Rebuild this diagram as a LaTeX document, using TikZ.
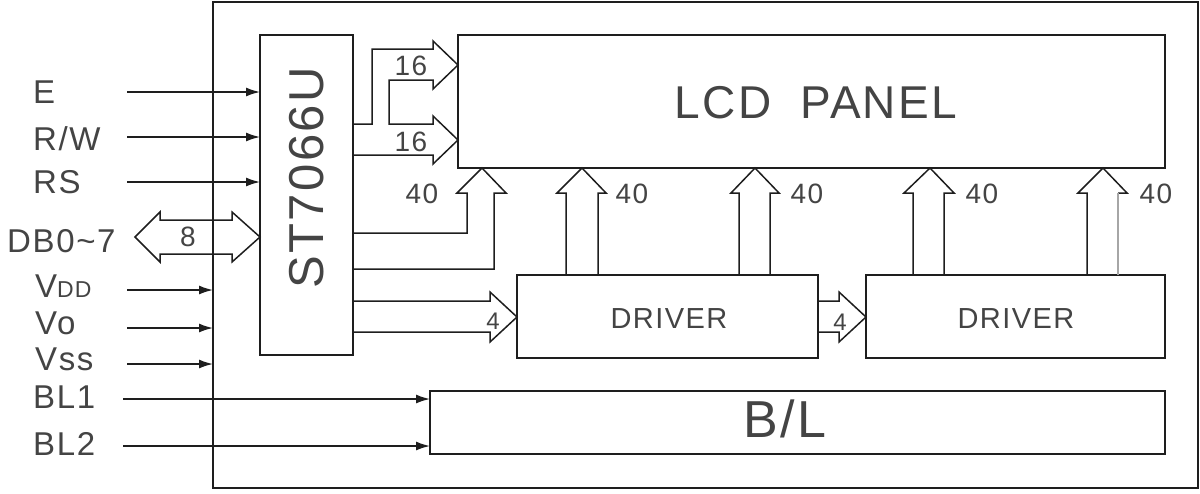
\documentclass[tikz,border=0pt]{standalone}
\usepackage{fontspec}
\setmainfont{Liberation Sans}[LetterSpace=5]
\usetikzlibrary{arrows.meta}
\definecolor{lc}{HTML}{1E1E1E}
\definecolor{tc}{HTML}{444444}
\begin{document}
\begin{tikzpicture}[x=1pt,y=-1pt,
  ln/.style={line width=1.5pt, draw=lc, line join=miter},
  blk/.style={ln, rectangle, inner sep=0pt, outer sep=0pt, anchor=north west},
  sig/.style={ln, -{Latex[length=14pt,width=9pt]}},
  fat/.style={ln},
  lbl/.style={text=tc, font=\fontsize{33}{36}\selectfont, anchor=base west, inner sep=0pt},
  num/.style={text=tc, font=\fontsize{28}{32}\selectfont, anchor=base, inner sep=0pt},
  big/.style={text=tc, anchor=base, inner sep=0pt},
]
\useasboundingbox (0,0) rectangle (1200,493);

% blocks
\node[blk, minimum width=985pt, minimum height=486pt] (frame) at (213,2) {};
\node[blk, minimum width=93pt, minimum height=320pt] (st) at (260,35) {};
\node[blk, minimum width=707pt, minimum height=133pt] (lcd) at (458,35) {};
\node[blk, minimum width=301pt, minimum height=83pt] (drvA) at (517,275) {};
\node[blk, minimum width=299pt, minimum height=83pt] (drvB) at (866,275) {};
\node[blk, minimum width=735pt, minimum height=63pt] (bl) at (430,391) {};

% block texts
\node[text=tc, font=\fontsize{49}{50}\selectfont, rotate=90, inner sep=0pt] (sttxt) at (307,178) {ST7066U};
\node[big, font=\fontsize{46}{48}\selectfont] (lcdtxt) at (816,118) {LCD\hspace{0.3em} PANEL};
\node[big, font=\fontsize{29}{32}\selectfont] (drvAtxt) at (669,328) {DRIVER};
\node[big, font=\fontsize{29}{32}\selectfont] (drvBtxt) at (1016,328) {DRIVER};
\node[big, font=\fontsize{52}{54}\selectfont] (bltxt) at (785,437) {B/L};

% left labels
\node[lbl] (eL) at (33,103) {E};
\node[lbl] (rwL) at (33,150) {R/W};
\node[lbl] (rsL) at (33,193) {RS};
\node[lbl] (dbL) at (7,252) {DB0\textasciitilde7};
\node[lbl] (vddL) at (35,297) {V{\fontsize{23}{24}\selectfont DD}};
\node[lbl] (voL) at (35,334) {Vo};
\node[lbl] (vssL) at (35,370) {Vss};
\node[lbl] (bl1L) at (33,408) {BL1};
\node[lbl] (bl2L) at (33,455) {BL2};

% signal arrows
\coordinate (eS) at (127,92);
\coordinate (rwS) at (127,137);
\coordinate (rsS) at (127,182);
\coordinate (vddS) at (127,290);
\coordinate (voS) at (127,328);
\coordinate (vssS) at (127,364);
\coordinate (bl1S) at (123,399);
\coordinate (bl2S) at (123,446);
\draw[sig] (eS) -- (eS -| st.west);
\draw[sig] (rwS) -- (rwS -| st.west);
\draw[sig] (rsS) -- (rsS -| st.west);
\draw[sig] (vddS) -- (vddS -| frame.west);
\draw[sig] (voS) -- (voS -| frame.west);
\draw[sig] (vssS) -- (vssS -| frame.west);
\draw[sig] (bl1S) -- (bl1S -| bl.west);
\draw[sig] (bl2S) -- (bl2S -| bl.west);

% DB0~7 double bus arrow
\coordinate (dbT) at (135,237);
\draw[fat] (dbT) -- (160,212) -- (160,220) -- (232,220) -- (232,212) -- (st.west |- 0,237)
  -- (232,262) -- (232,254) -- (160,254) -- (160,262) -- cycle;
\node[num] (n8) at (188,246) {8};

% 16 + 16 bus to LCD
\draw[fat] (st.east |- 0,124) -- (372,124) -- (372,49) -- (433,49) -- (433,41)
  -- (lcd.west |- 0,65) -- (433,89) -- (433,80) -- (389,80) -- (389,124) -- (433,124)
  -- (433,116) -- (lcd.west |- 0,140) -- (433,164) -- (433,155) -- (st.east |- 0,155);
\node[num] (n16a) at (411,75) {16};
\node[num] (n16b) at (411,151) {16};

% 40 bus from ST7066U to LCD
\draw[fat] (st.east |- 0,233) -- (467,233) -- (467,193) -- (457,193) -- (lcd.south -| 482,0)
  -- (506,193) -- (494,193) -- (494,269) -- (st.east |- 0,269);
\node[num] (n40s) at (422,203) {40};

% 4 bus from ST7066U to driver A
\draw[fat] (st.east |- 0,301) -- (490,301) -- (490,292) -- (drvA.west |- 0,317)
  -- (490,342) -- (490,332) -- (st.east |- 0,332);
\node[num, font=\fontsize{24}{26}\selectfont] (n4a) at (493,329) {4};

% 4 bus from driver A to driver B
\draw[fat] (drvA.east |- 0,301) -- (839,301) -- (839,292) -- (drvB.west |- 0,317)
  -- (839,342) -- (839,332) -- (drvA.east |- 0,332);
\node[num, font=\fontsize{24}{26}\selectfont] (n4b) at (840,330) {4};

% 40 buses from drivers to LCD
\draw[fat] (drvA.north -| 566,0) -- (566,193) -- (557,193) -- (lcd.south -| 582,0)
  -- (606,193) -- (598,193) -- (drvA.north -| 598,0);
\node[num] (n40a) at (632,203) {40};
\draw[fat] (drvA.north -| 739,0) -- (739,193) -- (731,193) -- (lcd.south -| 755,0)
  -- (779,193) -- (770,193) -- (drvA.north -| 770,0);
\node[num] (n40b) at (807,203) {40};
\draw[fat] (drvB.north -| 913,0) -- (913,193) -- (904,193) -- (lcd.south -| 930,0)
  -- (954,193) -- (944,193) -- (drvB.north -| 944,0);
\node[num] (n40c) at (982,203) {40};
\draw[fat] (drvB.north -| 1087,0) -- (1087,193) -- (1078,193) -- (lcd.south -| 1103,0)
  -- (1127,193) -- (1118,193);
\draw[ln, draw=gray!70] (1118,193) -- (drvB.north -| 1118,0);
\node[num] (n40d) at (1156,203) {40};
\end{tikzpicture}
\end{document}
